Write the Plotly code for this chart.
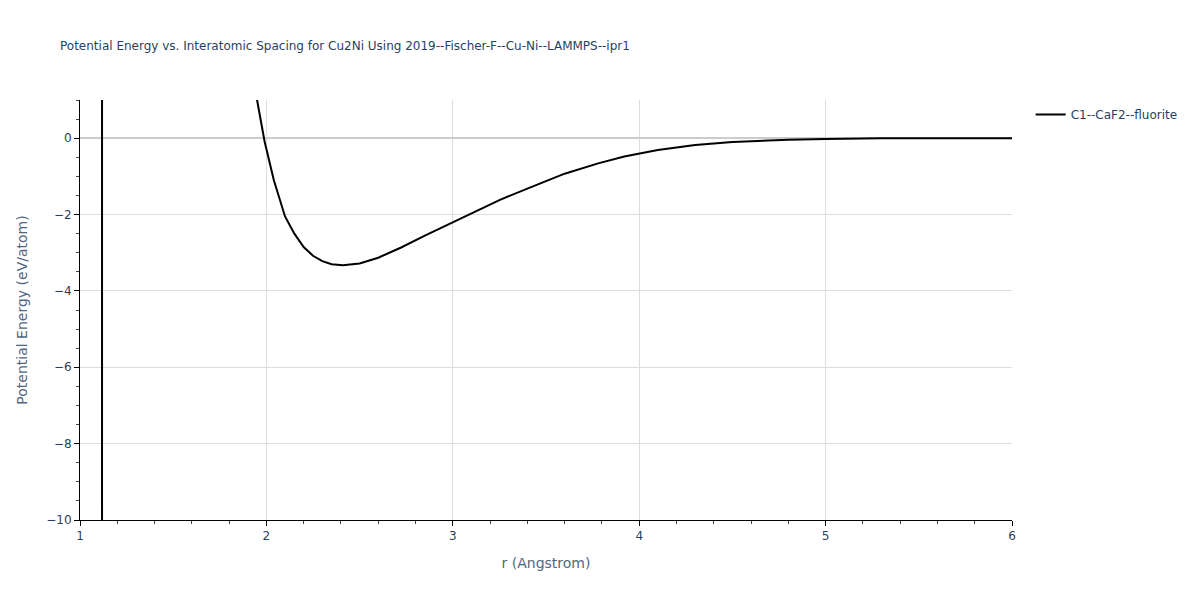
import plotly.graph_objects as go

r_vals = [1.118, 1.12, 1.5, 1.8, 1.9, 1.95, 1.99, 2.04, 2.1, 2.15, 2.2, 2.25, 2.3, 2.35,
          2.41, 2.5, 2.6, 2.72, 2.85, 3.0, 3.12, 3.25, 3.4, 3.5, 3.6, 3.78, 3.92,
          4.1, 4.3, 4.5, 4.8, 5.0, 5.3, 6.0]
energy = [-60, 500, 60, 8, 2.6, 1.0, -0.08, -1.1, -2.05, -2.5, -2.85, -3.08, -3.22, -3.3,
          -3.33, -3.28, -3.13, -2.87, -2.55, -2.2, -1.92, -1.62, -1.32, -1.12, -0.93, -0.66, -0.48,
          -0.31, -0.18, -0.1, -0.04, -0.02, 0.0, 0.0]
series_name = "C1--CaF2--fluorite"

fig = go.Figure()
fig.add_trace(go.Scatter(x=r_vals, y=energy, mode="lines", name=series_name,
                         line=dict(color="black", width=2), showlegend=True))

fig.update_layout(
    template="plotly_white",
    width=1200, height=600,
    font=dict(family="DejaVu Sans", color="#2a3f5f", size=12),
    title=dict(text="Potential Energy vs. Interatomic Spacing for Cu2Ni Using 2019--Fischer-F--Cu-Ni--LAMMPS--ipr1",
               font=dict(size=12)),
    margin=dict(l=80, r=188, t=100, b=80),
    showlegend=True,
    xaxis=dict(title=dict(text="r (Angstrom)", font=dict(size=14, color="#506784")), range=[1, 6], dtick=1,
               showline=True, linecolor="black", linewidth=1, ticks="outside",
               tickcolor="black", mirror=False, zeroline=False,
               gridcolor="#dddddd",
               minor=dict(dtick=0.2, ticks="outside", tickcolor="#444", showgrid=False)),
    yaxis=dict(title=dict(text="Potential Energy (eV/atom)", font=dict(size=14, color="#506784")), range=[-10, 1], dtick=2,
               showline=True, linecolor="black", linewidth=1, ticks="outside",
               tickcolor="black", zeroline=True, zerolinecolor="#cccccc", zerolinewidth=2,
               gridcolor="#dddddd",
               minor=dict(dtick=0.5, ticks="outside", tickcolor="#444", showgrid=False)),
)

fig.write_html("out.html", config={"displayModeBar": False},
               post_script="document.body.style.margin='0';")
